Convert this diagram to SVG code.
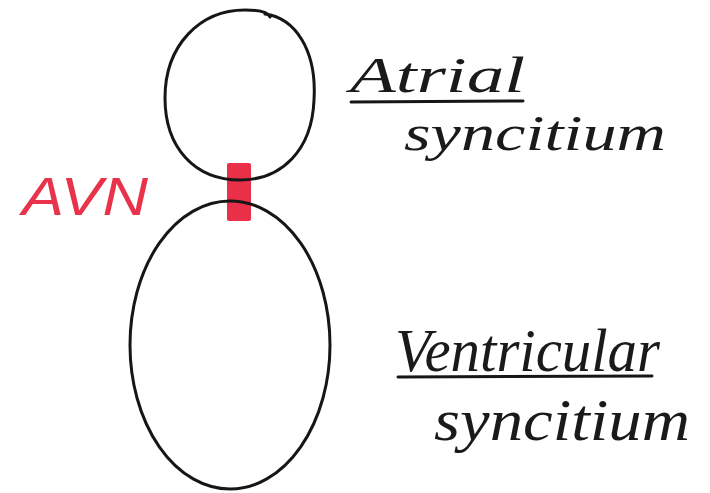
<svg xmlns="http://www.w3.org/2000/svg" width="710" height="493" viewBox="0 0 710 493">
<style>
.ln{fill:none;stroke:#161616;stroke-width:3;stroke-linecap:round}
.hw{font-family:"Liberation Serif",serif;font-style:italic;fill:#1a1a1a}
.red{font-family:"Liberation Sans",sans-serif;font-style:italic;fill:#e8334a}
</style>
<rect width="710" height="493" fill="#ffffff"/>
<g id="avn">
<rect x="227" y="163" width="24" height="58" rx="2" fill="#ea3049"/>
<text class="red" x="22" y="215" font-size="54" textLength="126" lengthAdjust="spacingAndGlyphs">AVN</text>
</g>
<g id="atrial">
<path class="ln" d="M265,14 C295,18 317,50 314,100 C312,150 282,180 240,180 C195,180 165,148 165,98 C165,45 200,10 245,10 C258,10 268,12 270,17"/>
<text class="hw" x="350" y="92" font-size="50" textLength="175" lengthAdjust="spacingAndGlyphs">Atrial</text>
<line class="ln" x1="351" y1="102" x2="523" y2="101"/>
<text class="hw" x="404" y="150" font-size="50" textLength="262" lengthAdjust="spacingAndGlyphs">syncitium</text>
</g>
<g id="ventricular">
<ellipse class="ln" cx="230" cy="345" rx="100" ry="144"/>
<text class="hw" x="395" y="371" font-size="62" textLength="265" lengthAdjust="spacingAndGlyphs">Ventricular</text>
<line class="ln" x1="398" y1="377" x2="652" y2="376"/>
<text class="hw" x="434" y="440" font-size="60" textLength="256" lengthAdjust="spacingAndGlyphs">syncitium</text>
</g>
</svg>
